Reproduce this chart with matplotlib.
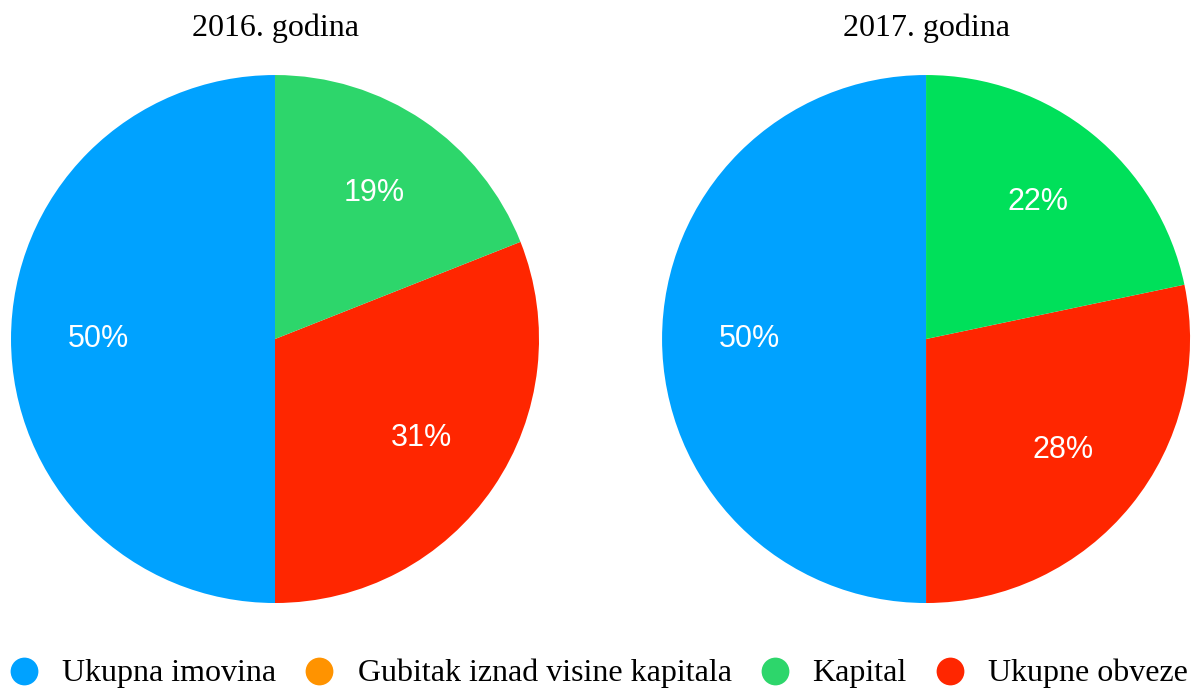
import matplotlib

matplotlib.use("Agg")
import matplotlib.pyplot as plt
from matplotlib.lines import Line2D

# Data
categories = ["Ukupna imovina", "Gubitak iznad visine kapitala", "Kapital", "Ukupne obveze"]
years = ["2016. godina", "2017. godina"]
values_2016 = [50, 0, 19, 31]
values_2017 = [50, 0, 21.7, 28.3]

# Colours
COLORS_2016 = ["#00A2FF", "#FF9300", "#2DD66B", "#FF2600"]
COLORS_2017 = ["#00A2FF", "#FF9300", "#00E05A", "#FF2600"]
LEGEND_COLORS = ["#00A2FF", "#FF9300", "#2DD66B", "#FF2600"]

SERIF = ["Liberation Serif", "DejaVu Serif"]
SANS = ["Liberation Sans", "DejaVu Sans"]

fig = plt.figure(figsize=(11.97, 6.89), dpi=100)

# wedge order going counter-clockwise from the top
draw_order = [0, 1, 3, 2]

axes_rects = [
    [0.0092, 0.1248, 0.4411, 0.7663],
    [0.5531, 0.1248, 0.4411, 0.7663],
]

for rect, title, vals, cols in zip(
    axes_rects, years, [values_2016, values_2017], [COLORS_2016, COLORS_2017]
):
    ax = fig.add_axes(rect)
    v = [vals[i] for i in draw_order]
    c = [cols[i] for i in draw_order]
    wedges, texts, autotexts = ax.pie(
        v,
        colors=c,
        startangle=90,
        counterclock=True,
        autopct=lambda p: f"{p:.0f}%" if p > 0 else "",
        pctdistance=0.67,
        radius=1.0,
        wedgeprops=dict(linewidth=0),
        textprops=dict(color="white", fontsize=22, family=SANS, va="center"),
    )
    ax.set_xlim(-1, 1)
    ax.set_ylim(-1, 1)
    ax.set_aspect("auto")
    ax.set_title(title, fontsize=23, family=SERIF, pad=28)

# Legend drawn along the bottom
legend_circle_x = [24, 319, 775, 950]
legend_text_x = [62, 358, 812, 988]
W, H = 1197, 689
y_leg = 1 - 671 / H
y_txt = 1 - 673 / H
for cx, tx, lab, col in zip(legend_circle_x, legend_text_x, categories, LEGEND_COLORS):
    fig.add_artist(
        Line2D(
            [cx / W], [y_leg], marker="o", markersize=20, color=col,
            markeredgewidth=0, transform=fig.transFigure, linestyle="none",
        )
    )
    fig.text(tx / W, y_txt, lab, fontsize=23, family=SERIF, va="center", ha="left")

fig.savefig("out.png", dpi=100)
